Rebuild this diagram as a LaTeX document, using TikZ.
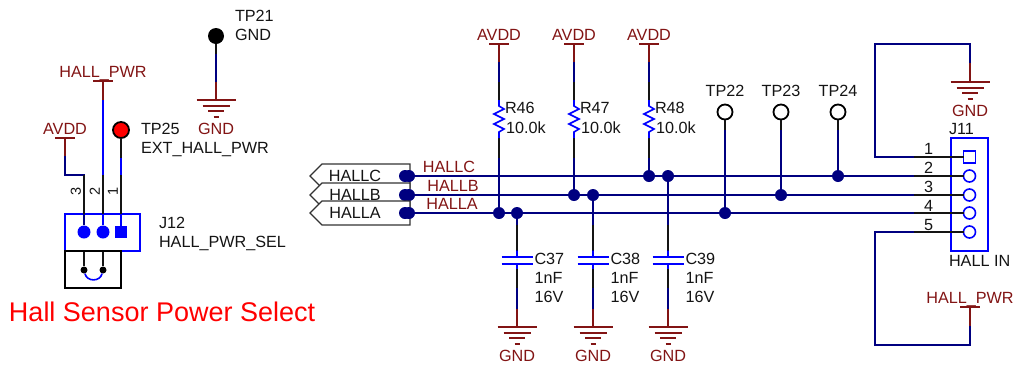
\documentclass[tikz,border=0pt]{standalone}
\usepackage{fontspec}
\setmainfont{Liberation Sans}
\usetikzlibrary{positioning}
\definecolor{netred}{RGB}{130,20,20}
\definecolor{wirenavy}{RGB}{0,0,128}
\definecolor{inkblack}{RGB}{20,20,20}
\tikzset{
	txt/.style={font=\fontsize{16.2}{18}\selectfont, text=inkblack, inner sep=0pt, outer sep=0pt, text height=11.5pt, text depth=0pt},
	net/.style={txt, text=netred},
	wire/.style={draw=wirenavy, line width=1.6pt},
	stub/.style={draw=inkblack, line width=1.6pt},
	power/.style={draw=netred, line width=1.6pt},
	part/.style={draw=blue, line width=1.6pt},
	dot/.style={circle, fill=wirenavy, inner sep=0pt, outer sep=0pt, minimum size=12pt},
	tpoint/.style={circle, draw=black, line width=1.8pt, fill=white, inner sep=0pt, outer sep=0pt, minimum size=15pt},
	pinc/.style={circle, part, fill=white, inner sep=0pt, outer sep=0pt, minimum size=12pt},
	pins/.style={rectangle, part, fill=white, inner sep=0pt, outer sep=0pt, minimum size=12pt}
}
\newcommand{\gndsym}[3]{
	\coordinate (#1) at (#2,#3);
	\draw[power] (#2-19.5,#3) -- (#2+19.5,#3);
	\draw[power] (#2-13.5,#3+6) -- (#2+13.5,#3+6);
	\draw[power] (#2-8,#3+11) -- (#2+8,#3+11);
	\draw[power] (#2-2.5,#3+17) -- (#2+2.5,#3+17);
	\node[net] (#1txt) at (#2,#3+28.5) {GND};
}
\newcommand{\pwrsym}[4]{
	\coordinate (#1) at (#2,#3);
	\draw[power] (#2-10,#3) -- (#2+10,#3);
	\node[net] (#1txt) at (#2,#3-9) {#4};
}
\begin{document}
\begin{tikzpicture}[x=1pt,y=-1pt]
	\useasboundingbox (0,0) rectangle (1013,365);

	\node[txt, anchor=west] (ttp21) at (235,16) {TP21};
	\node[txt, below=7.5pt of ttp21.south west, anchor=north west] (tgnd) {GND};
	\node[circle, fill=black, inner sep=0pt, minimum size=16pt] (tp21) at (216,36) {};
	\gndsym{g21}{216}{100}
	\draw[wire] (tp21) -- (g21);
	\draw[stub] (tp21) -- ++(0,18);
	\draw[power] (g21) -- ++(0,-18);

	\node[part, minimum width=75pt, minimum height=37pt, inner sep=0pt] (J12) at (102.5,232.5) {};
	\node[circle, fill=blue, inner sep=0pt, minimum size=13pt] (j3) at (84,232) {};
	\node[circle, fill=blue, inner sep=0pt, minimum size=13pt] (j2) at (103,232) {};
	\node[rectangle, fill=blue, inner sep=0pt, minimum size=12pt] (j1) at (121,232) {};
	\pwrsym{pj2}{103}{81}{HALL\_PWR}
	\pwrsym{pj3}{65}{138}{AVDD}
	\node[tpoint, fill=red, minimum size=16pt] (tp25) at (121,130) {};
	\node[txt, anchor=west] (ttp25) at (141,129) {TP25};
	\node[txt, below=7.5pt of ttp25.south west, anchor=north west] (text25) {EXT\_HALL\_PWR};
	\coordinate (cj3) at (65,175);
	\coordinate (tj3) at (84,175);
	\draw[wire] (pj3) -- (cj3) -- (tj3) -- (j3);
	\draw[wire, draw=blue] (pj2) -- (j2);
	\draw[wire, draw=blue] (tp25) -- (j1);
	\draw[power] (pj3) -- ++(0,18);
	\draw[power] (pj2) -- ++(0,19);
	\draw[stub] (tp25) -- ++(0,28);
	\foreach \to/\n in {j3/3,j2/2,j1/1}
		\draw[stub] (\to) ++(0,-18) -- ++(0,-39);
	\foreach \x/\n in {75/3,94/2,112/1}
		\node[txt, rotate=90, font=\fontsize{14.5}{15}\selectfont] (pn\n) at (\x,191) {\n};
	\node[txt, anchor=west] (tj12) at (159,223) {J12};
	\node[txt, below=7.5pt of tj12.south west, anchor=north west] (tj12b) {HALL\_PWR\_SEL};
	\node[draw=black, line width=1.6pt, inner sep=0pt, minimum width=56pt, minimum height=37pt] (shunt) at (93,269.5) {};
	\node[circle, fill=black, inner sep=0pt, minimum size=7pt] (s3) at (84,270) {};
	\node[circle, fill=black, inner sep=0pt, minimum size=7pt] (s2) at (103,270) {};
	\draw[stub] (J12.south -| s3) -- (s3);
	\draw[stub] (J12.south -| s2) -- (s2);
	\draw[part] (s3) .. controls (87,282) and (100,282) .. (s2);
	\node[txt, anchor=west, font=\fontsize{27}{30}\selectfont, text=red, text height=19pt] (title) at (9,312) {Hall Sensor Power Select};

	\foreach \n/\y/\lx in {C/176/449,B/195/453,A/213/452} {
		\draw[draw=black!80, fill=white, line width=1.2pt] (310,\y) -- (322,\y-12) -- (410,\y-12) -- (410,\y+12) -- (322,\y+12) -- cycle;
		\node[txt] (port\n) at (355,\y) {HALL\n};
		\node[net] (lbl\n) at (\lx,\y-9.5) {HALL\n};
		\node[dot] (l\n) at (405,\y) {};
		\node[dot] (m\n) at (409,\y) {};
	}

	\node[part, minimum width=37.5pt, minimum height=112.5pt, inner sep=0pt, fill=white] (J11) at (969.5,194.5) {};
	\node[pins] (p1) at (969.5,157) {};
	\node[pinc] (p2) at (969.5,176) {};
	\node[pinc] (p3) at (969.5,195) {};
	\node[pinc] (p4) at (969.5,213) {};
	\node[pinc] (p5) at (969.5,232) {};
	\foreach \n/\y in {1/149,2/168,3/187,4/206,5/225}
		\node[txt] (pnum\n) at (928.7,\y) {\n};
	\node[txt, anchor=south west] (tj11) at (949,134.5) {J11};
	\node[txt, anchor=north west] (thall) at (949,255) {HALL IN};

	\draw[wire] (mC) -- (p2);
	\draw[wire] (mB) -- (p3);
	\draw[wire] (mA) -- (p4);
	\foreach \n in {2,3,4}
		\draw[stub] (p\n.west) -- ++(-50,0);

	\foreach \x/\n/\t in {499/46/213,574/47/195,649/48/176} {
		\pwrsym{pw\n}{\x}{44}{AVDD}
		\node[dot] (dot\n) at (\x,\t) {};
		\draw[wire] (pw\n) -- (dot\n);
		\draw[power] (pw\n) -- ++(0,18);
		\draw[stub] (\x,82) -- (\x,100);
		\draw[stub] (\x,138) -- (\x,158);
		\draw[draw=white, line width=2.5pt] (\x,100) -- (\x,138);
		\draw[part, line join=miter] (\x,100) -- (\x,106) -- ++(5,3) -- ++(-10,5) -- ++(10,5) -- ++(-10,5) -- ++(10,5) -- ++(-5,3) -- (\x,138);
		\node[txt, anchor=west] (r\n) at (\x+6,108) {R\n};
		\node[txt, anchor=west] (v\n) at (\x+7,127.7) {10.0k};
	}

	\foreach \x/\n/\t in {517/37/213,593/38/195,668/39/176} {
		\node[dot] (cd\n) at (\x,\t) {};
		\gndsym{g\n}{\x}{327}
		\coordinate (pt\n) at (\x,257);
		\coordinate (pb\n) at (\x,264);
		\draw[wire] (cd\n) -- (pt\n);
		\draw[wire] (pb\n) -- (g\n);
		\draw[stub] (pt\n) ++(0,-7) -- ++(0,-25);
		\draw[stub] (pb\n) ++(0,4) -- ++(0,20);
		\draw[power] (g\n) -- ++(0,-18);
		\draw[part] ([xshift=-15.5pt]pt\n) -- ([xshift=15.5pt]pt\n);
		\draw[part] ([xshift=-15.5pt]pb\n) -- ([xshift=15.5pt]pb\n);
		\draw[part] (pt\n) -- ++(0,-6);
		\draw[part] (pb\n) -- ++(0,5);
		\node[txt, anchor=west] (c\n) at (\x+17.5,259) {C\n};
		\node[txt, anchor=west] (cv\n) at (\x+17.5,278) {1nF};
		\node[txt, anchor=west] (cr\n) at (\x+17.5,297) {16V};
	}

	\foreach \x/\n/\t in {725/22/213,781/23/195,838/24/176} {
		\node[tpoint] (tp\n) at (\x,112) {};
		\node[txt] (ttp\n) at (\x,91) {TP\n};
		\node[dot] (td\n) at (\x,\t) {};
		\draw[wire] (tp\n) -- (td\n);
		\draw[stub] (tp\n) -- ++(0,18);
	}

	\gndsym{g11}{970}{82}
	\coordinate (la) at (875,157);
	\coordinate (lb) at (875,44);
	\coordinate (lc) at (970,44);
	\draw[wire] (p1) -- (la) -- (lb) -- (lc) -- (g11);
	\draw[stub] (p1.west) -- ++(-50,0);
	\draw[power] (g11) -- ++(0,-19);
	\pwrsym{pj11}{970}{307}{HALL\_PWR}
	\coordinate (ld) at (875,232);
	\coordinate (le) at (875,345);
	\coordinate (lf) at (970,345);
	\draw[wire] (p5) -- (ld) -- (le) -- (lf) -- (pj11);
	\draw[stub] (p5.west) -- ++(-50,0);
	\draw[power] (pj11) -- ++(0,19);
\end{tikzpicture}
\end{document}
